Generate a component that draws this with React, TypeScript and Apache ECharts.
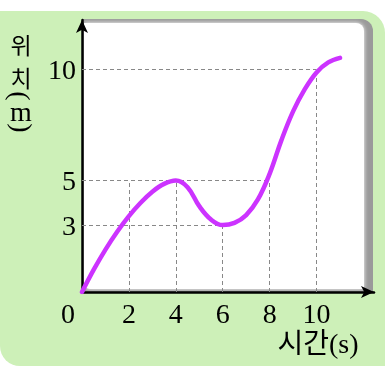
import React, { useEffect, useRef } from "react";
import * as echarts from "echarts";

// time (s) and position (m)
const times = [0, 0.5, 1, 1.5, 2, 2.5, 3, 3.5, 4, 4.5, 5, 5.5, 6, 6.5, 7, 7.5, 8, 8.5, 9, 9.5, 10, 10.5, 11];
const positions = [0, 1.0, 1.9, 2.7, 3.4, 4.0, 4.5, 4.85, 5.0, 4.7, 3.85, 3.25, 3.0, 3.1, 3.45, 4.15, 5.3, 6.8, 8.1, 9.1, 9.85, 10.3, 10.5];

// tick labels
const xTickLabels = [2, 4, 6, 8, 10];
const yTickLabels = [3, 5, 10];

// dashed guide lines: vertical at x up to height, horizontal at y up to x
const guideX = [2, 4, 6, 8, 10];
const guideXTop = [5, 5, 3, 5, 10];
const guideY = [3, 5, 10];
const guideYEnd = [6, 8, 10];

const xTitle = "시간(s)";
const yTitleChars = ["위", "치"];
const yUnit = "m";

export default function App() {
  const ref = useRef<HTMLDivElement>(null);
  useEffect(() => {
    if (!ref.current) return;
    const chart = echarts.init(ref.current, null, { renderer: "svg" });
    const serif = '"Liberation Serif", "Noto Sans CJK KR"';
    const kr = '"Noto Sans CJK KR"';
    const markData: any[] = [];
    guideX.forEach((x, i) => {
      markData.push([{ coord: [x, 0] }, { coord: [x, guideXTop[i]] }]);
    });
    guideY.forEach((y, i) => {
      markData.push([{ coord: [0, y] }, { coord: [guideYEnd[i], y] }]);
    });
    const option: any = {
      animation: false,
      grid: { left: 82, right: 11, top: 20, bottom: 75 },
      xAxis: {
        type: "value",
        min: 0,
        max: 12.45,
        interval: 2,
        axisLine: {
          show: true,
          onZero: false,
          symbol: ["none", "arrow"],
          symbolSize: [9, 13],
          lineStyle: { color: "#000", width: 2.5 },
        },
        axisTick: { show: false },
        splitLine: { show: false },
        axisLabel: {
          showMaxLabel: false,
          margin: 7,
          color: "#000",
          fontSize: 28,
          fontFamily: serif,
          formatter: (v: number) => (xTickLabels.includes(v) ? String(v) : ""),
        },
      },
      yAxis: {
        type: "value",
        min: 0,
        max: 12.2,
        interval: 1,
        axisLine: {
          show: true,
          onZero: false,
          symbol: ["none", "arrow"],
          symbolSize: [9, 13],
          lineStyle: { color: "#000", width: 2.5 },
        },
        axisTick: { show: false },
        splitLine: { show: false },
        axisLabel: {
          showMaxLabel: false,
          margin: 6,
          color: "#000",
          fontSize: 28,
          fontFamily: serif,
          formatter: (v: number) => (yTickLabels.includes(v) ? String(v) : ""),
        },
      },
      graphic: [
        {
          type: "rect",
          z: -100,
          shape: { x: 0, y: 11, width: 385, height: 355, r: [0, 22, 0, 20] },
          style: { fill: "#cdf0b8" },
        },
        {
          type: "rect",
          z: -99,
          shape: { x: 82, y: 19, width: 291, height: 274, r: [0, 12, 0, 8] },
          style: { fill: "#9a9a9a" },
        },
        {
          type: "rect",
          z: -98,
          shape: { x: 84, y: 23, width: 280, height: 266, r: [0, 8, 0, 6] },
          style: { fill: "#ffffff", shadowBlur: 4, shadowColor: "#ffffff" },
        },
        {
          type: "text",
          z: 10,
          x: 68,
          y: 313,
          style: { text: "0", fontSize: 28, fontFamily: serif, fill: "#000", align: "center", verticalAlign: "middle" },
        },
        {
          type: "text",
          z: 10,
          x: 318,
          y: 343,
          style: { text: xTitle, fontSize: 28, fontFamily: serif, fill: "#000", align: "center", verticalAlign: "middle" },
        },
        {
          type: "text",
          z: 10,
          x: 21,
          y: 44,
          style: { text: yTitleChars[0], fontSize: 23, lineHeight: 23, fontFamily: kr, fill: "#000", align: "center", verticalAlign: "middle" },
        },
        {
          type: "text",
          z: 10,
          x: 21,
          y: 77,
          style: { text: yTitleChars[1], fontSize: 23, lineHeight: 23, fontFamily: kr, fill: "#000", align: "center", verticalAlign: "middle" },
        },
        {
          type: "text",
          z: 10,
          x: 20,
          y: 96,
          rotation: -Math.PI / 2,
          style: { text: "(", fontSize: 28, lineHeight: 20, fontFamily: serif, fill: "#000", align: "center", verticalAlign: "middle" },
        },
        {
          type: "text",
          z: 10,
          x: 21,
          y: 111,
          style: { text: yUnit, fontSize: 28, lineHeight: 16, fontFamily: serif, fill: "#000", align: "center", verticalAlign: "middle" },
        },
        {
          type: "text",
          z: 10,
          x: 22,
          y: 128,
          rotation: -Math.PI / 2,
          style: { text: ")", fontSize: 28, lineHeight: 20, fontFamily: serif, fill: "#000", align: "center", verticalAlign: "middle" },
        },
      ],
      series: [
        {
          type: "line",
          data: [],
          z: 3,
          markLine: {
            silent: true,
            symbol: "none",
            label: { show: false },
            lineStyle: { type: [4, 3], color: "#888", width: 1 },
            data: markData,
          },
        },
        {
          type: "line",
          z: 5,
          smooth: 0.4,
          showSymbol: false,
          lineStyle: { color: "#cc33ff", width: 4.5, cap: "round" },
          data: times.map((t, i) => [t, positions[i]]),
        },
      ],
    };
    chart.setOption(option);
    return () => chart.dispose();
  }, []);
  return <div ref={ref} style={{ position: "fixed", left: 0, top: 0, width: 385, height: 367 }} />;
}
